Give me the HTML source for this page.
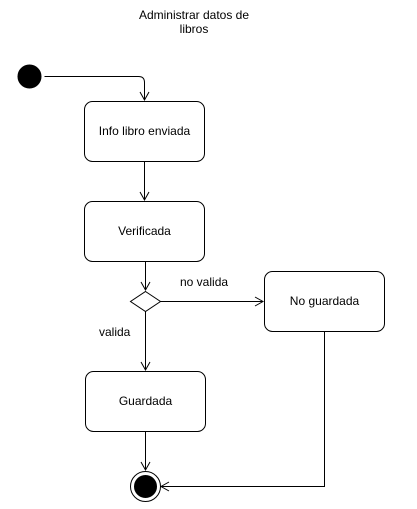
<!DOCTYPE html>
<html><head><meta charset="utf-8"><style>body{margin:0;background:#fff}svg{display:block}text{font-family:"Liberation Sans",Arial,sans-serif;font-size:12px;fill:#000}</style></head><body>
<svg width="417" height="509" viewBox="0 0 417 509">
<g fill="none" stroke="#000" stroke-width="1">
<text x="194" y="19" text-anchor="middle" stroke="none">Administrar datos de</text>
<text x="194" y="33" text-anchor="middle" stroke="none">libros</text>
<circle cx="29.5" cy="76.5" r="11.5" fill="#000"/>
<path d="M44.5 76.5 H138.5 Q144.5 76.5 144.5 82.5 V100"/>
<path d="M140 92 L144.5 100 L149 92"/>
<rect x="84.5" y="101.5" width="120" height="60" rx="8"/>
<text x="144.5" y="135" text-anchor="middle" stroke="none">Info libro enviada</text>
<path d="M144.5 161.5 V200"/><path d="M140 192 L144.5 200 L149 192"/>
<rect x="84.5" y="201.5" width="120" height="60" rx="8"/>
<text x="144.5" y="235" text-anchor="middle" stroke="none">Verificada</text>
<path d="M145.5 261.5 V290"/><path d="M141 282 L145.5 290 L150 282"/>
<path d="M145.5 291.5 L160.5 301.5 L145.5 311.5 L130.5 301.5 Z" fill="#fff"/>
<path d="M160.5 301.5 H263"/><path d="M255 297 L263 301.5 L255 306"/>
<text x="180" y="286" stroke="none">no valida</text>
<rect x="264.5" y="271.5" width="120" height="60" rx="8"/>
<text x="324.5" y="305" text-anchor="middle" stroke="none">No guardada</text>
<path d="M145.5 311.5 V370"/><path d="M141 362 L145.5 370 L150 362"/>
<text x="99" y="336" stroke="none">valida</text>
<rect x="85.5" y="371.5" width="120" height="60" rx="8"/>
<text x="145.5" y="405" text-anchor="middle" stroke="none">Guardada</text>
<path d="M145.5 431.5 V470"/><path d="M141 462 L145.5 470 L150 462"/>
<circle cx="145.5" cy="486.5" r="15" fill="#fff"/>
<circle cx="145.5" cy="486.5" r="11" fill="#000"/>
<path d="M324.5 331.5 V486.5 H161"/><path d="M169 482 L161 486.5 L169 491"/>
</g>
</svg>
</body></html>
